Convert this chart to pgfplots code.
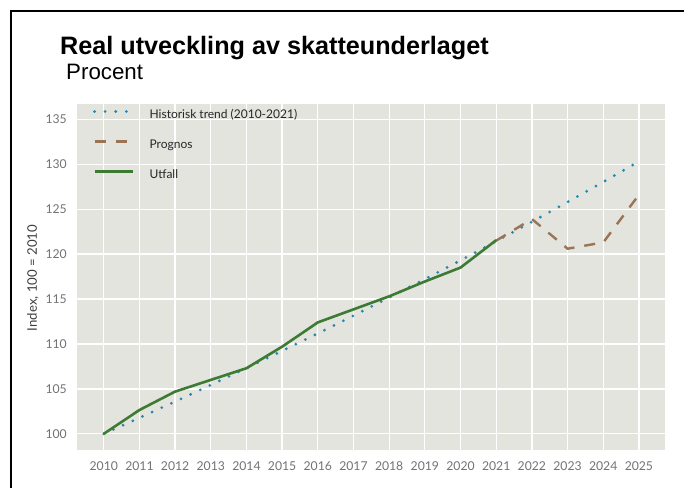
\documentclass[border=0pt]{standalone}
\usepackage{pgfplots}
\pgfplotsset{compat=1.18}
\usepackage{fontspec}
\setmainfont{Lato}
\newfontfamily\titlefont{Liberation Sans}
\definecolor{bgc}{RGB}{228,228,223}
\definecolor{trendc}{RGB}{38,135,175}
\definecolor{progc}{RGB}{155,115,85}
\definecolor{utfc}{RGB}{61,122,50}
\definecolor{tickc}{RGB}{115,115,115}
\begin{document}
\begin{tikzpicture}
\useasboundingbox (0pt,0pt) rectangle (684pt,488pt);
\fill[white] (0pt,0pt) rectangle (684pt,488pt);
\draw[line width=2pt,black] (11pt,0pt) -- (11pt,477pt) -- (684pt,477pt);
\node[anchor=base west,inner sep=0pt] at (60pt,433pt) {\titlefont\fontsize{25.2}{30}\selectfont\bfseries Real utveckling av skatteunderlaget};
\node[anchor=base west,inner sep=0pt] at (66pt,408pt) {\titlefont\fontsize{22.3}{26}\selectfont Procent};
\begin{axis}[
  at={(77pt,38pt)}, anchor=south west,
  scale only axis, width=588pt, height=346pt,
  xmin=2009.25, xmax=2025.73, ymin=98.2, ymax=136.7,
  xtick={2010,...,2025}, ytick={100,105,...,135},
  axis background/.style={fill=bgc},
  axis line style={draw=none},
  major tick length=0pt,
  grid=major, grid style={white, line width=1.3pt},
  /pgf/number format/1000 sep={},
  /pgf/number format/assume math mode=true,
  tick label style={font=\fontsize{12.2}{14}\selectfont, text=tickc},
  yticklabel style={inner sep=0pt, anchor=east, xshift=-10pt},
  xticklabel style={inner sep=0pt, anchor=north, yshift=-11pt},
  ylabel={Index, 100 = 2010},
  ylabel style={at={(axis description cs:-0.0748,0.497)}, rotate=0, anchor=center, font=\fontsize{13.2}{15}\selectfont, text=black!75},
  legend style={at={(axis description cs:0.0272,0.984)}, anchor=north west, draw=none, fill=none, inner sep=0pt, outer sep=0pt,
    row sep=18pt, column sep=15.5pt, font=\fontsize{12}{14}\selectfont, text=black!85,
    nodes={inner sep=0pt, text height=9pt, text depth=3pt}},
  legend cell align=left,
  legend image code/.code={\draw[#1] (0pt,4pt) -- (38pt,4pt);},
]
\addplot[trendc, line width=3.1pt, line cap=round, dash pattern=on 0pt off 10.6pt] coordinates {
(2010,100) (2011,101.78) (2012,103.59) (2013,105.44) (2014,107.32) (2015,109.23)
(2016,111.17) (2017,113.15) (2018,115.17) (2019,117.22) (2020,119.30) (2021,121.43)
(2022,123.59) (2023,125.79) (2024,128.03) (2025,130.31)};
\addlegendentry{Historisk trend (2010-2021)}
\addplot[progc, line width=2.4pt, dash pattern=on 11pt off 10pt] coordinates {
(2021,121.5) (2022,123.9) (2023,120.6) (2024,121.3) (2025,126.6)};
\addlegendentry{Prognos}
\addplot[utfc, line width=2.6pt] coordinates {
(2010,100) (2011,102.65) (2012,104.7) (2013,106.0) (2014,107.3) (2015,109.7)
(2016,112.4) (2017,113.85) (2018,115.3) (2019,116.95) (2020,118.5) (2021,121.55)};
\addlegendentry{Utfall}
\end{axis}
\end{tikzpicture}
\end{document}
